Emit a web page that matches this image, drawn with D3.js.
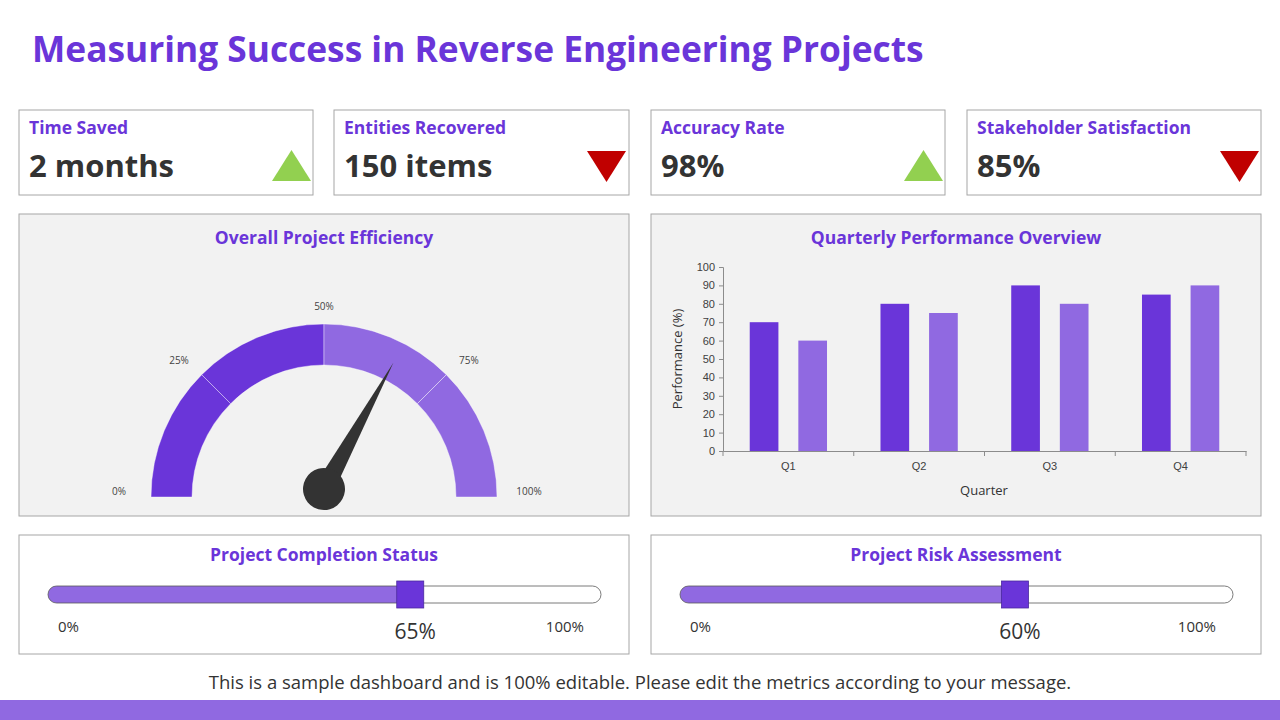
<!doctype html>
<html>
<head>
    <meta charset="utf-8"/>
    <style>
        body { margin: 0; background: #fff; }
        svg { display: block; font-family: "Open Sans", Lato, sans-serif; }
    </style>
    <script src="https://d3js.org/d3.v7.min.js"></script>
</head>
<body>
<svg width="1280" height="720"></svg>
<script>

    // ---- data ----
    var pageTitle = "Measuring Success in Reverse Engineering Projects";
    var kpiLabels = ["Time Saved", "Entities Recovered", "Accuracy Rate", "Stakeholder Satisfaction"];
    var kpiValues = ["2 months", "150 items", "98%", "85%"];
    var kpiTrends = ["up", "down", "up", "down"];

    var gaugeTitle = "Overall Project Efficiency";
    var gaugeValue = 66;
    var gaugeTicks = [0, 25, 50, 75, 100];

    var barTitle = "Quarterly Performance Overview";
    var quarters = ["Q1", "Q2", "Q3", "Q4"];
    var seriesNames = ["A", "B"];
    var seriesA = [70, 80, 90, 85];
    var seriesB = [60, 75, 80, 90];
    var yTicks = [0, 10, 20, 30, 40, 50, 60, 70, 80, 90, 100];

    var sliderTitles = ["Project Completion Status", "Project Risk Assessment"];
    var sliderValues = [65, 60];

    var footerText = "This is a sample dashboard and is 100% editable. Please edit the metrics according to your message.";

    // ---- styles ----
    var purple = "#6a35d9";
    var lilac = "#9069e1";
    var border = "#a6a6a6";
    var ink = "#333333";

    var svg = d3.select("svg");

    // title
    svg.append("text")
        .attr("x", 32).attr("y", 62)
        .attr("font-size", 35.3).attr("font-weight", 700)
        .attr("fill", purple)
        .text(pageTitle);

    // ---- KPI cards ----
    var cardX = [19, 334, 651, 967], cardW = 294, cardY = 110, cardH = 85;

    var card = svg.selectAll(".card")
        .data(kpiLabels)
        .join("g")
        .attr("class", "card")
        .attr("transform", function(d, i) { return "translate(" + cardX[i] + "," + cardY + ")"; });

    card.append("rect")
        .attr("width", function(d, i) { return i === 1 ? cardW + 1 : cardW; }).attr("height", cardH)
        .attr("fill", "#fff").attr("stroke", border);

    card.append("text")
        .attr("x", 10).attr("y", 24)
        .attr("font-size", 17.5).attr("font-weight", 700)
        .attr("fill", purple)
        .text(function(d) { return d; });

    card.append("text")
        .attr("x", 10).attr("y", 67)
        .attr("font-size", 31).attr("font-weight", 700)
        .attr("fill", ink)
        .text(function(d, i) { return kpiValues[i]; });

    card.append("path")
        .attr("transform", "translate(" + (cardW - 41) + ",56)")
        .attr("d", function(d, i) {
            return kpiTrends[i] === "up" ? "M0,15 L19.5,-16 L39,15 Z" : "M0,-15 L39,-15 L19.5,16 Z";
        })
        .attr("fill", function(d, i) { return kpiTrends[i] === "up" ? "#92d050" : "#c00000"; });

    // ---- panels ----
    function panel(x, y, w, h, fill, title, ty) {
        var g = svg.append("g").attr("transform", "translate(" + x + "," + y + ")");
        g.append("rect").attr("width", w).attr("height", h)
            .attr("fill", fill).attr("stroke", border);
        g.append("text")
            .attr("x", w / 2).attr("y", ty)
            .attr("text-anchor", "middle")
            .attr("font-size", 17.5).attr("font-weight", 700)
            .attr("fill", purple)
            .text(title);
        return g;
    }

    // ---- gauge ----
    var gp = panel(19, 214, 610, 302, "#f2f2f2", gaugeTitle, 30);
    var gcx = 305, gcy = 283;
    var angle = d3.scaleLinear().domain([0, 100]).range([-Math.PI / 2, Math.PI / 2]);
    var arc = d3.arc().innerRadius(132).outerRadius(173);

    var segs = d3.pairs(gaugeTicks);
    gp.append("g").attr("transform", "translate(" + gcx + "," + gcy + ")")
        .selectAll("path")
        .data(segs)
        .join("path")
        .attr("d", function(d) { return arc({startAngle: angle(d[0]), endAngle: angle(d[1])}); })
        .attr("fill", function(d) { return d[1] <= 50 ? purple : lilac; })
        .attr("stroke", "#ffffff").attr("stroke-opacity", 0.5).attr("stroke-width", 0.8);

    gp.append("g").selectAll("text")
        .data(gaugeTicks)
        .join("text")
        .attr("x", function(d) { return gcx + 205 * Math.sin(angle(d)); })
        .attr("y", function(d) { return gcy - 6 - 185 * Math.cos(angle(d)); })
        .attr("dy", "0.35em")
        .attr("text-anchor", "middle")
        .attr("font-size", 10).attr("fill", "#444")
        .text(function(d) { return d + "%"; });

    var needle = gp.append("g")
        .attr("transform", "translate(" + gcx + "," + (gcy - 8) + ") rotate(" + (angle(gaugeValue) * 180 / Math.PI) + ")");
    needle.append("path").attr("d", "M-10,0 L0,-144 L10,0 Z").attr("fill", ink);
    needle.append("circle").attr("r", 21).attr("fill", ink);

    // ---- bar chart ----
    var bp = panel(651, 214, 610, 302, "#f2f2f2", barTitle, 30);
    var x0 = d3.scaleBand().domain(quarters).range([72, 595]);
    var x1 = d3.scaleBand().domain(seriesNames).range([0, x0.bandwidth()])
        .paddingInner(0.41).paddingOuter(0.55);
    var y = d3.scaleLinear().domain([0, 100]).range([237, 53]);
    var barColor = d3.scaleOrdinal().domain(seriesNames).range([purple, lilac]);

    var rows = quarters.map(function(q, i) { return {q: q, values: [["A", seriesA[i]], ["B", seriesB[i]]]}; });

    bp.append("g").selectAll("g")
        .data(rows)
        .join("g")
        .attr("transform", function(d) { return "translate(" + x0(d.q) + ",0)"; })
        .selectAll("rect")
        .data(function(d) { return d.values; })
        .join("rect")
        .attr("x", function(d) { return x1(d[0]); })
        .attr("width", x1.bandwidth())
        .attr("y", function(d) { return y(d[1]); })
        .attr("height", function(d) { return y(0) - y(d[1]); })
        .attr("fill", function(d) { return barColor(d[0]); });

    var yAxis = bp.append("g")
        .attr("transform", "translate(72,0)")
        .call(d3.axisLeft(y).tickValues(yTicks).tickSize(4).tickPadding(4));
    yAxis.selectAll("line, path").attr("stroke", "#8c8c8c");
    yAxis.selectAll("text").attr("font-size", 11).attr("fill", "#404040").attr("font-family", null);

    var xAxis = bp.append("g")
        .attr("transform", "translate(0," + y(0) + ")")
        .call(d3.axisBottom(x0).tickSize(0).tickPadding(11));
    xAxis.select(".domain").attr("stroke", "#8c8c8c");
    xAxis.selectAll("text").attr("font-size", 11).attr("fill", "#404040").attr("font-family", null);
    xAxis.selectAll(".sep")
        .data(quarters.map(function(q) { return x0(q); }).concat([x0.range()[1]]))
        .join("line")
        .attr("class", "sep")
        .attr("x1", function(d) { return d; }).attr("x2", function(d) { return d; })
        .attr("y1", 0).attr("y2", 5)
        .attr("stroke", "#8c8c8c");

    bp.append("text")
        .attr("x", 333).attr("y", 281)
        .attr("text-anchor", "middle")
        .attr("font-size", 13).attr("fill", ink)
        .text("Quarter");
    bp.append("text")
        .attr("transform", "translate(31,145) rotate(-90)")
        .attr("text-anchor", "middle")
        .attr("font-size", 13).attr("fill", ink)
        .text("Performance (%)");

    // ---- sliders ----
    sliderTitles.forEach(function(title, i) {
        var sp = panel(i === 0 ? 19 : 651, 535, 610, 119, "#fff", title, 26);
        var tx0 = 29, tx1 = 582, ty = 51, th = 17;
        var sx = d3.scaleLinear().domain([0, 100]).range([tx0 + 8, tx1]);
        var v = sx(sliderValues[i]);

        sp.append("rect")
            .attr("x", tx0).attr("y", ty).attr("width", tx1 - tx0).attr("height", th)
            .attr("rx", th / 2).attr("fill", "#fff");
        sp.append("rect")
            .attr("x", tx0).attr("y", ty).attr("width", v - tx0).attr("height", th)
            .attr("rx", th / 2).attr("fill", lilac);
        sp.append("rect")
            .attr("x", tx0).attr("y", ty).attr("width", tx1 - tx0).attr("height", th)
            .attr("rx", th / 2).attr("fill", "none").attr("stroke", "#595959").attr("stroke-width", 0.8);
        sp.append("rect")
            .attr("x", v - 13.5).attr("y", ty + th / 2 - 13.5).attr("width", 27).attr("height", 27)
            .attr("fill", purple).attr("stroke", "#4b2a9e").attr("stroke-width", 0.8);

        sp.append("text")
            .attr("x", tx0 + 10).attr("y", 97)
            .attr("font-size", 15).attr("fill", ink)
            .text(sx.domain()[0] + "%");
        sp.append("text")
            .attr("x", tx1 - 17).attr("y", 97)
            .attr("text-anchor", "end")
            .attr("font-size", 15).attr("fill", ink)
            .text(sx.domain()[1] + "%");
        sp.append("text")
            .attr("x", v + 5).attr("y", 104)
            .attr("text-anchor", "middle")
            .attr("font-size", 21).attr("fill", ink)
            .text(sliderValues[i] + "%");
    });

    // ---- footer ----
    svg.append("text")
        .attr("x", 640).attr("y", 689)
        .attr("text-anchor", "middle")
        .attr("font-size", 18.5).attr("fill", ink)
        .text(footerText);
    svg.append("rect")
        .attr("x", 0).attr("y", 700).attr("width", 1280).attr("height", 20)
        .attr("fill", lilac);

</script>
</body>
</html>
